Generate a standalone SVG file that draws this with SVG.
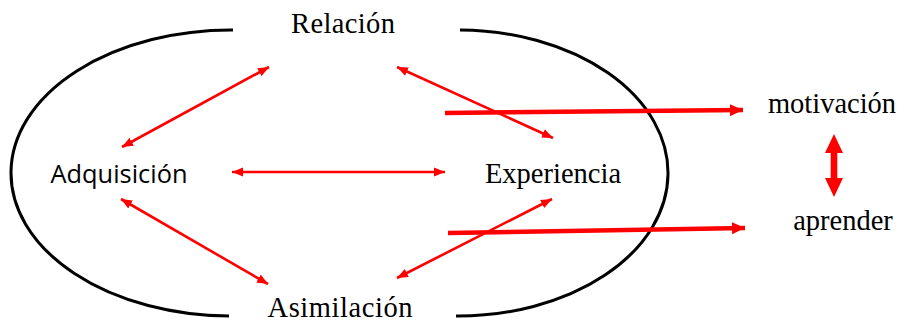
<svg xmlns="http://www.w3.org/2000/svg" width="918" height="324" viewBox="0 0 918 324">
<style>
.serif{font-family:"Liberation Serif","Times New Roman",serif;font-size:28.5px;fill:#000;text-anchor:middle}
.sans{font-family:"Open Sans","DejaVu Sans",sans-serif;font-size:25px;fill:#000;text-anchor:middle}
.arc{fill:none;stroke:#000;stroke-width:3}
.thin{stroke:#f00;stroke-width:2.6;fill:none;marker-start:url(#h);marker-end:url(#h)}
.thick{stroke:#f00;stroke-width:4.5;fill:none;marker-end:url(#H)}
</style>
<defs>
<marker id="h" markerUnits="userSpaceOnUse" markerWidth="12" markerHeight="10" refX="11" refY="4.5" orient="auto-start-reverse" viewBox="0 0 12 9">
<path d="M0,0 L11,4.5 L0,9 z" fill="#f00"/>
</marker>
<marker id="H" markerUnits="userSpaceOnUse" markerWidth="14" markerHeight="13" refX="13" refY="6" orient="auto" viewBox="0 0 14 12">
<path d="M0,0 L13,6 L0,12 z" fill="#f00"/>
</marker>
</defs>
<g id="frame">
<path class="arc" d="M233,30 A220,143 0 0 0 229,316"/>
<path class="arc" d="M460,30 A210,143 0 0 1 456,316"/>
</g>
<g id="relacion"><text class="serif" x="343" y="33" textLength="104" lengthAdjust="spacing">Relación</text></g>
<g id="adquisicion"><text class="sans" x="119" y="183" textLength="137" lengthAdjust="spacingAndGlyphs">Adquisición</text></g>
<g id="experiencia"><text class="serif" x="553" y="183">Experiencia</text></g>
<g id="asimilacion"><text class="serif" x="340" y="317" textLength="145" lengthAdjust="spacing">Asimilación</text></g>
<g id="motivacion"><text class="serif" x="832" y="113">motivación</text></g>
<g id="aprender"><text class="serif" x="843" y="230">aprender</text></g>
<g id="connectors">
<line class="thin" x1="122" y1="147" x2="269" y2="67"/>
<line class="thin" x1="232" y1="172" x2="445" y2="172"/>
<line class="thin" x1="121" y1="199" x2="268" y2="284"/>
<line class="thin" x1="397" y1="67" x2="553" y2="138"/>
<line class="thin" x1="397" y1="278" x2="552" y2="199"/>
<line class="thick" x1="445" y1="113" x2="743" y2="110"/>
<line class="thick" x1="448" y1="233" x2="745" y2="228"/>
<path d="M834,134 L843,153 L837.3,153 L837.3,178 L843,178 L834,197 L825,178 L830.7,178 L830.7,153 L825,153 z" fill="#f00"/>
</g>
</svg>
